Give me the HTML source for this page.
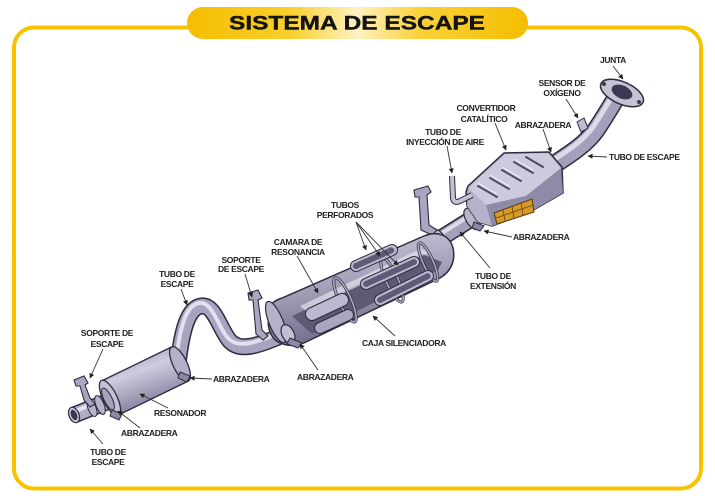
<!DOCTYPE html>
<html><head><meta charset="utf-8">
<style>
html,body{margin:0;padding:0;background:#fff;}
svg{display:block;}
.l{font-family:"Liberation Sans",Arial,sans-serif;font-size:8.5px;font-weight:bold;fill:#222;letter-spacing:-0.35px;}
.m{text-anchor:middle;}
.ld{stroke:#333;stroke-width:0.9;fill:none;}
</style></head><body>
<svg width="715" height="500" viewBox="0 0 715 500" xmlns="http://www.w3.org/2000/svg">
<defs>
 <linearGradient id="pill" x1="0" x2="1" y1="0" y2="0">
  <stop offset="0" stop-color="#f5bd00"/>
  <stop offset="0.3" stop-color="#f9cf2c"/>
  <stop offset="0.5" stop-color="#fff2c2"/>
  <stop offset="0.68" stop-color="#f9d23a"/>
  <stop offset="1" stop-color="#f5bd00"/>
 </linearGradient>
 <linearGradient id="mufg" x1="0" y1="0" x2="0.3" y2="1">
  <stop offset="0" stop-color="#d6d3e4"/>
  <stop offset="0.5" stop-color="#a6a2bc"/>
  <stop offset="1" stop-color="#6e6a88"/>
 </linearGradient>
 <linearGradient id="resg" x1="0" y1="0" x2="0.45" y2="1">
  <stop offset="0" stop-color="#8a86a2"/>
  <stop offset="0.45" stop-color="#cfcce0"/>
  <stop offset="1" stop-color="#7a7694"/>
 </linearGradient>
 <marker id="ah" viewBox="0 0 10 10" refX="9" refY="5" markerUnits="userSpaceOnUse" markerWidth="6" markerHeight="5" orient="auto"><path d="M0,0 L10,5 L0,10 z" fill="#222"/></marker>
 <path id="pI" d="M552,166 C570,154 585,145 596,130 C604,118 610,108 616,98"/>
 <path id="pF" d="M422,250 L484,211"/>
 <path id="pC" d="M178,364 C182,330 188,308 201,306 C214,304 219,327 229,340 C239,352 256,348 296,329"/>
 <path id="pA" d="M74,415 L114,399"/>
 <path id="pL" d="M452,176 L453,198 Q454,204 460,201 L472,195"/>
</defs>
<rect width="715" height="500" fill="#fff"/>
<rect x="14" y="27.5" width="687" height="461" rx="20" fill="none" stroke="#f7c300" stroke-width="4"/>
<rect x="187" y="7" width="341" height="32" rx="16" fill="url(#pill)"/>
<text x="229" y="29.5" textLength="256" lengthAdjust="spacingAndGlyphs" style="font-family:'Liberation Sans',Arial,sans-serif;font-size:19px;font-weight:bold;fill:#141414;stroke:#141414;stroke-width:0.4;">SISTEMA DE ESCAPE</text>

<!-- pipe to flange -->
<use href="#pI" fill="none" stroke="#2d2b3d" stroke-width="19"/>
<use href="#pI" fill="none" stroke="#a4a0bc" stroke-width="16"/>
<use href="#pI" fill="none" stroke="#dddbea" stroke-width="5" transform="translate(-3,-3)"/>
<!-- flange -->
<ellipse cx="622" cy="93" rx="23" ry="11" transform="rotate(24 622 93)" fill="#c6c2d6" stroke="#2d2b3d" stroke-width="1.5"/>
<ellipse cx="622" cy="92" rx="11" ry="6.5" transform="rotate(24 622 92)" fill="#3c3852"/>
<circle cx="604" cy="84" r="2" fill="#3c3852"/>
<circle cx="639" cy="102" r="2" fill="#3c3852"/>
<!-- sensor -->
<path d="M577,122 L584,118 L588,128 L581,132 Z" fill="#c0bcd0" stroke="#2d2b3d" stroke-width="1"/>

<!-- pipe F -->
<use href="#pF" fill="none" stroke="#2d2b3d" stroke-width="17"/>
<use href="#pF" fill="none" stroke="#a4a0bc" stroke-width="14"/>
<use href="#pF" fill="none" stroke="#dddbea" stroke-width="4" transform="translate(-2,-3)"/>
<ellipse cx="440" cy="239" rx="5" ry="11" transform="rotate(-32 440 239)" fill="#b8b4cc" stroke="#2d2b3d" stroke-width="1.2"/>
<ellipse cx="472" cy="219" rx="6" ry="12" transform="rotate(-32 472 219)" fill="#b8b4cc" stroke="#2d2b3d" stroke-width="1.2"/>
<path d="M474,222 L484,226 L480,231 L472,228 Z" fill="#8c88a6" stroke="#2d2b3d" stroke-width="1"/>

<!-- bracket G -->
<path d="M414,190 L428,186 L431,192 L427,195 L429,225 L437,230 L432,235 L421,230 L419,197 L415,197 Z" fill="#aaa6c0" stroke="#2d2b3d" stroke-width="1.1"/>

<!-- converter -->
<path d="M466,192 L468,186 L504,153 L549,152 L562,167 L563,193 L530,212 L492,226 L478,222 L467,206 Z" fill="#a8a4c0" stroke="#2d2b3d" stroke-width="1.5"/>
<path d="M468,188 L505,154 L548,153 L561,168 L526,196 L486,205 Z" fill="#cdcade"/>
<path d="M486,205 L526,196 L561,168 L563,193 L530,212 L492,226 Z" fill="#8e8aa8"/>
<path d="M468,188 L486,205 L492,226 L478,222 L467,206 Z" fill="#b6b2ca"/>
<g stroke="#4e4a66" stroke-width="2" stroke-linecap="round">
 <line x1="478" y1="186" x2="497" y2="197"/>
 <line x1="490" y1="178" x2="509" y2="189"/>
 <line x1="502" y1="170" x2="521" y2="181"/>
 <line x1="514" y1="162" x2="533" y2="173"/>
 <line x1="526" y1="157" x2="543" y2="167"/>
</g>
<g stroke="#f2f1f8" stroke-width="1">
 <line x1="478" y1="183" x2="497" y2="194"/>
 <line x1="490" y1="175" x2="509" y2="186"/>
 <line x1="502" y1="167" x2="521" y2="178"/>
 <line x1="514" y1="159" x2="533" y2="170"/>
</g>
<path d="M494,213 L532,199 L534,212 L497,224 Z" fill="#d69a26" stroke="#5a3a10" stroke-width="1"/>
<g stroke="#6a4410" stroke-width="0.8">
 <line x1="503" y1="210" x2="505" y2="221"/>
 <line x1="512" y1="206" x2="514" y2="218"/>
 <line x1="521" y1="203" x2="523" y2="215"/>
 <line x1="496" y1="218" x2="533" y2="205"/>
</g>
<!-- air tube -->
<use href="#pL" fill="none" stroke="#2d2b3d" stroke-width="6"/>
<use href="#pL" fill="none" stroke="#c6c2d6" stroke-width="4"/>

<!-- S-bend pipe -->
<use href="#pC" fill="none" stroke="#2d2b3d" stroke-width="17"/>
<use href="#pC" fill="none" stroke="#a8a4c0" stroke-width="14"/>
<use href="#pC" fill="none" stroke="#e2e0ee" stroke-width="4" transform="translate(-2,-3)"/>

<!-- muffler -->
<path d="M270,312 C268,304 276,300 282,298 L424,236 C438,230 450,236 453,248 C456,262 450,272 440,278 L306,342 C294,348 276,346 271,334 C267,326 268,318 270,312 Z" fill="url(#mufg)" stroke="#2d2b3d" stroke-width="1.5"/>
<path d="M292,316 L422,254 L442,262 L438,270 L312,334 Z" fill="#5e5a76"/>
<path d="M300,306 L420,249 L430,252 L306,311 Z" fill="#f0eff6" opacity="0.6"/>
<g fill="none" stroke-width="3">
 <ellipse cx="345" cy="300" rx="6" ry="24" transform="rotate(-24 345 300)" stroke="#2d2b3d"/>
 <ellipse cx="392" cy="280" rx="6" ry="24" transform="rotate(-24 392 280)" stroke="#2d2b3d"/>
 <ellipse cx="428" cy="262" rx="5" ry="21" transform="rotate(-24 428 262)" stroke="#2d2b3d"/>
</g>
<g fill="none" stroke-width="1.6">
 <ellipse cx="345" cy="300" rx="6" ry="24" transform="rotate(-24 345 300)" stroke="#aeaac4"/>
 <ellipse cx="392" cy="280" rx="6" ry="24" transform="rotate(-24 392 280)" stroke="#aeaac4"/>
 <ellipse cx="428" cy="262" rx="5" ry="21" transform="rotate(-24 428 262)" stroke="#aeaac4"/>
</g>
<g stroke-linecap="round" fill="none">
 <line x1="356" y1="266" x2="392" y2="250" stroke="#2d2b3d" stroke-width="12"/>
 <line x1="356" y1="266" x2="392" y2="250" stroke="#bcb8d0" stroke-width="10"/>
 <line x1="356" y1="266" x2="392" y2="250" stroke="#5e5a78" stroke-width="6" stroke-dasharray="1.5 2.2"/>
 <line x1="366" y1="284" x2="414" y2="262" stroke="#2d2b3d" stroke-width="12"/>
 <line x1="366" y1="284" x2="414" y2="262" stroke="#bcb8d0" stroke-width="10"/>
 <line x1="366" y1="284" x2="414" y2="262" stroke="#5e5a78" stroke-width="6" stroke-dasharray="1.5 2.2"/>
 <line x1="380" y1="300" x2="428" y2="276" stroke="#2d2b3d" stroke-width="12"/>
 <line x1="380" y1="300" x2="428" y2="276" stroke="#bcb8d0" stroke-width="10"/>
 <line x1="380" y1="300" x2="428" y2="276" stroke="#5e5a78" stroke-width="6" stroke-dasharray="1.5 2.2"/>
 <line x1="312" y1="314" x2="342" y2="300" stroke="#2d2b3d" stroke-width="14"/>
 <line x1="312" y1="314" x2="342" y2="300" stroke="#bcb8d0" stroke-width="12"/>
 <line x1="320" y1="328" x2="348" y2="315" stroke="#2d2b3d" stroke-width="12"/>
 <line x1="320" y1="328" x2="348" y2="315" stroke="#aaa6c2" stroke-width="10"/>
</g>
<ellipse cx="276" cy="322" rx="7" ry="22" transform="rotate(-22 276 322)" fill="#b6b2ca" stroke="#2d2b3d" stroke-width="1.2"/>
<ellipse cx="288" cy="334" rx="6" ry="10" transform="rotate(-26 288 334)" fill="#c2bed4" stroke="#2d2b3d" stroke-width="1.2"/>
<path d="M290,338 L302,343 L298,348 L287,344 Z" fill="#8c88a6" stroke="#2d2b3d" stroke-width="1"/>
<!-- muffler bracket -->
<path d="M248,293 L258,290 L262,298 L258,300 L262,330 L268,336 L263,340 L256,334 L253,300 L249,300 Z" fill="#aaa6c0" stroke="#2d2b3d" stroke-width="1.1"/>

<!-- tailpipe -->
<use href="#pA" fill="none" stroke="#2d2b3d" stroke-width="17"/>
<use href="#pA" fill="none" stroke="#b0acc6" stroke-width="14"/>
<use href="#pA" fill="none" stroke="#e4e2ee" stroke-width="4" transform="translate(-1,-3)"/>
<ellipse cx="74" cy="415" rx="5" ry="8" transform="rotate(-22 74 415)" fill="#d0cde0" stroke="#2d2b3d" stroke-width="1.2"/>
<ellipse cx="74" cy="415" rx="3" ry="5.5" transform="rotate(-22 74 415)" fill="#3a3650"/>
<ellipse cx="92" cy="408" rx="4" ry="9" transform="rotate(-22 92 408)" fill="#b8b4cc" stroke="#2d2b3d" stroke-width="1"/>
<ellipse cx="100" cy="405" rx="4" ry="10" transform="rotate(-22 100 405)" fill="#b8b4cc" stroke="#2d2b3d" stroke-width="1"/>
<!-- resonator -->
<path d="M101.7,380.9 L171.7,346.9 L188.3,381.1 L118.3,415.1 Z" fill="url(#resg)" stroke="#2d2b3d" stroke-width="1.4"/>
<ellipse cx="180" cy="364" rx="7" ry="19" transform="rotate(-26 180 364)" fill="#b4b0c8" stroke="#2d2b3d" stroke-width="1.3"/>
<ellipse cx="110" cy="398" rx="7" ry="19.5" transform="rotate(-26 110 398)" fill="#c4c0d6" stroke="#2d2b3d" stroke-width="1.3"/>
<ellipse cx="108" cy="399" rx="4" ry="12" transform="rotate(-26 108 399)" fill="#a6a2bc" stroke="#2d2b3d" stroke-width="1"/>
<path d="M180,372 L190,376 L187,382 L178,378 Z" fill="#8c88a6" stroke="#2d2b3d" stroke-width="1"/>
<path d="M112,410 L122,414 L119,420 L110,416 Z" fill="#8c88a6" stroke="#2d2b3d" stroke-width="1"/>
<!-- resonator bracket -->
<path d="M74,380 L84,376 L88,383 L85,385 L90,398 L95,404 L90,407 L84,400 L80,386 L76,386 Z" fill="#aaa6c0" stroke="#2d2b3d" stroke-width="1.1"/>

<!-- leader lines -->
<g class="ld">
 <line x1="613" y1="66" x2="623" y2="79" marker-end="url(#ah)"/>
 <line x1="566" y1="99" x2="578" y2="118" marker-end="url(#ah)"/>
 <line x1="495" y1="123" x2="506" y2="150" marker-end="url(#ah)"/>
 <line x1="543" y1="129" x2="551" y2="152" marker-end="url(#ah)"/>
 <line x1="447" y1="146" x2="452" y2="173" marker-end="url(#ah)"/>
 <line x1="607" y1="157" x2="588" y2="156" marker-end="url(#ah)"/>
 <line x1="512" y1="237" x2="484" y2="231" marker-end="url(#ah)"/>
 <line x1="490" y1="268" x2="460" y2="232" marker-end="url(#ah)"/>
 <line x1="356" y1="222" x2="366" y2="250" marker-end="url(#ah)"/>
 <line x1="356" y1="222" x2="380" y2="256" marker-end="url(#ah)"/>
 <line x1="356" y1="222" x2="398" y2="265" marker-end="url(#ah)"/>
 <line x1="297" y1="256" x2="318" y2="293" marker-end="url(#ah)"/>
 <line x1="245" y1="274" x2="252" y2="297" marker-end="url(#ah)"/>
 <line x1="181" y1="289" x2="187" y2="305" marker-end="url(#ah)"/>
 <line x1="395" y1="336" x2="373" y2="316" marker-end="url(#ah)"/>
 <line x1="318" y1="370" x2="300" y2="344" marker-end="url(#ah)"/>
 <line x1="212" y1="379" x2="190" y2="378" marker-end="url(#ah)"/>
 <line x1="103" y1="349" x2="90" y2="378" marker-end="url(#ah)"/>
 <line x1="168" y1="408" x2="140" y2="394" marker-end="url(#ah)"/>
 <line x1="140" y1="428" x2="118" y2="411" marker-end="url(#ah)"/>
 <line x1="103" y1="444" x2="90" y2="429" marker-end="url(#ah)"/>
</g>

<!-- labels -->
<text class="l m" x="613" y="63">JUNTA</text>
<text class="l m" x="562" y="86">SENSOR DE</text>
<text class="l m" x="562" y="96">OXÍGENO</text>
<text class="l m" x="486" y="111">CONVERTIDOR</text>
<text class="l m" x="484" y="122">CATALÍTICO</text>
<text class="l m" x="543" y="128">ABRAZADERA</text>
<text class="l m" x="443" y="135">TUBO DE</text>
<text class="l m" x="445" y="145">INYECCIÓN DE AIRE</text>
<text class="l" x="609" y="160">TUBO DE ESCAPE</text>
<text class="l m" x="345" y="208">TUBOS</text>
<text class="l m" x="345" y="218">PERFORADOS</text>
<text class="l" x="513" y="240">ABRAZADERA</text>
<text class="l m" x="298" y="245">CAMARA DE</text>
<text class="l m" x="298" y="255">RESONANCIA</text>
<text class="l m" x="241" y="263">SOPORTE</text>
<text class="l m" x="241" y="272">DE ESCAPE</text>
<text class="l m" x="177" y="277">TUBO DE</text>
<text class="l m" x="177" y="287">ESCAPE</text>
<text class="l m" x="493" y="279">TUBO DE</text>
<text class="l m" x="493" y="289">EXTENSIÓN</text>
<text class="l m" x="107" y="336">SOPORTE DE</text>
<text class="l m" x="107" y="347">ESCAPE</text>
<text class="l" x="362" y="346">CAJA SILENCIADORA</text>
<text class="l" x="213" y="382">ABRAZADERA</text>
<text class="l" x="297" y="380">ABRAZADERA</text>
<text class="l" x="154" y="416">RESONADOR</text>
<text class="l" x="121" y="436">ABRAZADERA</text>
<text class="l m" x="108" y="455">TUBO DE</text>
<text class="l m" x="108" y="465">ESCAPE</text>
</svg>
</body></html>
